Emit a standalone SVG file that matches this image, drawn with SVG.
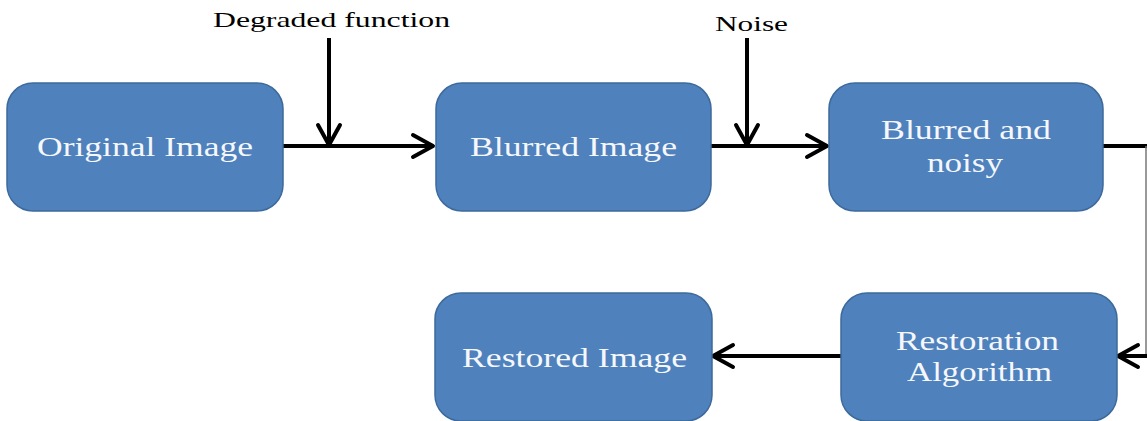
<svg xmlns="http://www.w3.org/2000/svg" width="1147" height="421" viewBox="0 0 1147 421">
<style>
.box{fill:#4f81bd;stroke:#3d6a9c;stroke-width:1.5}
.lbl{font-family:"Liberation Serif","Times New Roman",serif;font-size:27px;fill:#f5f7fb}
.cap{font-family:"Liberation Serif","Times New Roman",serif;font-size:22px;fill:#000}
.ln{stroke:#000;stroke-width:4;fill:none}
</style>
<defs>
<marker id="ah" markerUnits="userSpaceOnUse" markerWidth="30" markerHeight="30" viewBox="-24 -15 30 30" refX="0" refY="0" orient="auto">
<path d="M-20 -11 L0 0 L-20 11" fill="none" stroke="#000" stroke-width="4" stroke-linecap="round" stroke-linejoin="round"/>
</marker>
</defs>
<g id="connectors">
<path class="ln" d="M283 146 H433" marker-end="url(#ah)"/>
<path class="ln" d="M329 38 V145" marker-end="url(#ah)"/>
<path class="ln" d="M711 146 H827" marker-end="url(#ah)"/>
<path class="ln" d="M747 38 V145" marker-end="url(#ah)"/>
<path class="ln" d="M1103 146 H1147"/>
<path d="M1146 146 V356" stroke="#777" stroke-width="1.5" fill="none"/>
<path class="ln" d="M1147 356 H1118" marker-end="url(#ah)"/>
<path class="ln" d="M841 356 H713" marker-end="url(#ah)"/>
</g>
<g id="label-degraded"><text class="cap" x="213" y="27" textLength="237" lengthAdjust="spacingAndGlyphs">Degraded function</text></g>
<g id="label-noise"><text class="cap" x="715" y="31" font-size="23" textLength="73" lengthAdjust="spacingAndGlyphs">Noise</text></g>
<g id="original"><rect class="box" x="7" y="83" width="276" height="128" rx="26"/><text class="lbl" x="37" y="156" textLength="216" lengthAdjust="spacingAndGlyphs">Original Image</text></g>
<g id="blurred"><rect class="box" x="436" y="83" width="275" height="128" rx="26"/><text class="lbl" x="470" y="156" textLength="207" lengthAdjust="spacingAndGlyphs">Blurred Image</text></g>
<g id="noisy"><rect class="box" x="829" y="83" width="274" height="128" rx="26"/><text class="lbl" x="881" y="139" textLength="170" lengthAdjust="spacingAndGlyphs">Blurred and</text><text class="lbl" x="927" y="172" textLength="76" lengthAdjust="spacingAndGlyphs">noisy</text></g>
<g id="restored"><rect class="box" x="435" y="293" width="277" height="128" rx="26"/><text class="lbl" x="462" y="367" textLength="225" lengthAdjust="spacingAndGlyphs">Restored Image</text></g>
<g id="restoration"><rect class="box" x="841" y="293" width="276" height="128" rx="26"/><text class="lbl" x="896" y="350" textLength="163" lengthAdjust="spacingAndGlyphs">Restoration</text><text class="lbl" x="907" y="381" textLength="145" lengthAdjust="spacingAndGlyphs">Algorithm</text></g>
</svg>
